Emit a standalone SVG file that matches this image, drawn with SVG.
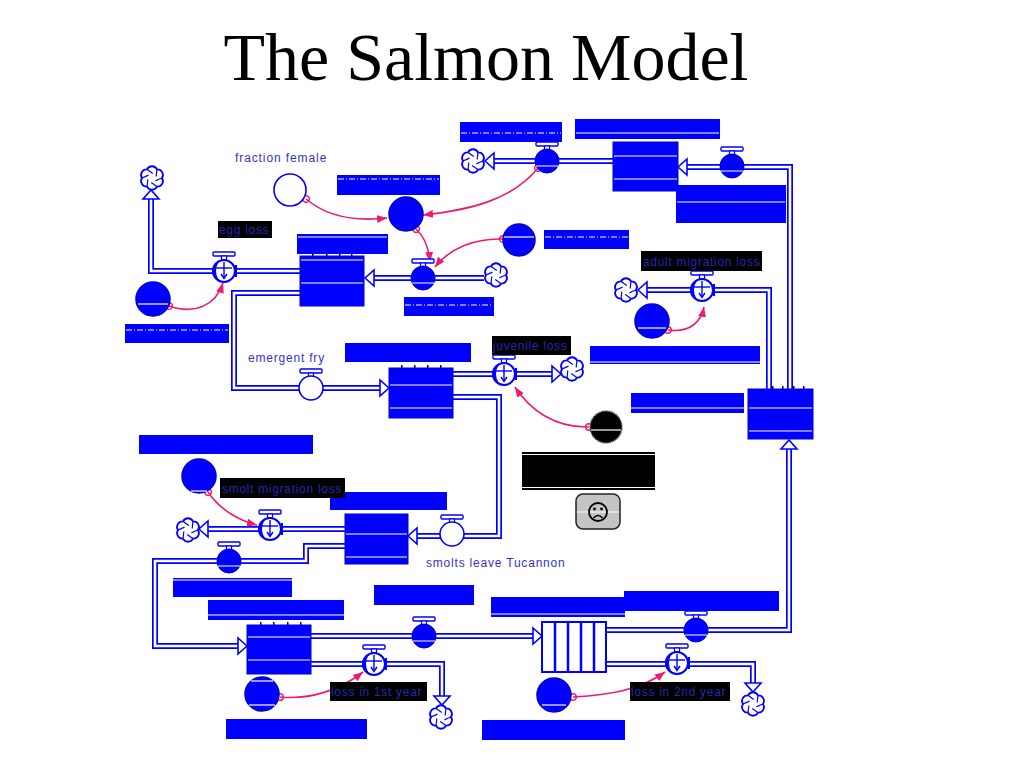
<svg xmlns="http://www.w3.org/2000/svg" width="1024" height="768" viewBox="0 0 1024 768">
<style>
.po{fill:none;stroke:#0000ff;stroke-width:6;stroke-linejoin:miter}
.pi{fill:none;stroke:#ffffff;stroke-width:2.6;stroke-linejoin:miter}
.ah{fill:#ffffff;stroke:#0000ff;stroke-width:1.6;stroke-linejoin:miter}
.stock{fill:#0000ff;stroke:#0000cc;stroke-width:1}
.wl{stroke:#ffffff;stroke-width:1.2}
.wd{stroke:#ffffff;stroke-width:1.2;stroke-dasharray:6 2 1 2}
.lbl{fill:#0000ff}
.blk{fill:#000000}
.bt{font-family:"Liberation Sans",Arial,sans-serif;font-size:12px;fill:#2626b0;letter-spacing:0.7px}
.nt{font-family:"Liberation Sans",Arial,sans-serif;font-size:12px;fill:#3333cc;letter-spacing:0.9px}
.conv{fill:#0000ff;stroke:#0000cc;stroke-width:1.5}
.cn{fill:none;stroke:#ee1a72;stroke-width:1.6;marker-start:url(#mo);marker-end:url(#ma)}
.cloud{fill:#ffffff;stroke:#0000ff;stroke-width:1.8}
.tick{fill:#000066}
</style>
<defs>
<marker id="ma" markerUnits="userSpaceOnUse" markerWidth="12" markerHeight="10" refX="10" refY="5" orient="auto"><path d="M0,1 L10,5 L0,9 Z" fill="#ee1a72"/></marker>
<marker id="mo" markerUnits="userSpaceOnUse" markerWidth="10" markerHeight="10" refX="5" refY="5" orient="auto"><circle cx="5" cy="5" r="3.3" fill="none" stroke="#ee1a72" stroke-width="1.4"/></marker>
<path id="ah" d="M0,0 L-9,-8 L-9,8 Z"/>
<g id="cloud">
<path class="cloud" d="M10,0 A5.6,5.6 0 0 1 5,8.66 A5.6,5.6 0 0 1 -5,8.66 A5.6,5.6 0 0 1 -10,0 A5.6,5.6 0 0 1 -5,-8.66 A5.6,5.6 0 0 1 5,-8.66 A5.6,5.6 0 0 1 10,0 Z"/>
<path d="M10,0 Q6.89,1.22 3.45,2.89 M5,8.66 Q2.39,6.58 -0.78,4.43 M-5,8.66 Q-4.5,5.36 -4.23,1.54 M-10,0 Q-6.89,-1.22 -3.45,-2.89 M-5,-8.66 Q-2.39,-6.58 0.78,-4.43 M5,-8.66 Q4.5,-5.36 4.23,-1.54" fill="none" stroke="#0000ff" stroke-width="1.2"/>
</g>
<g id="handle">
<rect x="-11" y="-19" width="22" height="4" rx="1" fill="#ffffff" stroke="#0000ff" stroke-width="1.4"/>
<rect x="-2.5" y="-15" width="5" height="4" fill="#ffffff" stroke="#0000ff" stroke-width="1.2"/>
</g>
<g id="vf">
<use href="#handle"/>
<circle r="12" fill="#0000ff" stroke="#0000cc" stroke-width="1"/>
<line x1="-11" y1="5" x2="11" y2="5" stroke="#ffffff" stroke-width="1"/>
</g>
<g id="vh">
<use href="#handle"/>
<circle r="12" fill="#ffffff" stroke="#0000ff" stroke-width="1.6"/>
</g>
<g id="vl">
<use href="#handle"/>
<circle r="11" fill="#ffffff" stroke="#0000ff" stroke-width="2"/>
<path d="M-1,-11 A11,11 0 0 0 -1,11 A7,11 0 0 1 -1,-11 Z" fill="#0000ff"/>
<line x1="0" y1="-9" x2="0" y2="7" stroke="#0000ff" stroke-width="1.4"/>
<line x1="-8" y1="-3" x2="8" y2="-3" stroke="#0000ff" stroke-width="1.4"/>
<path d="M-3,3 L0,7.5 L3,3" fill="none" stroke="#0000ff" stroke-width="1.4"/>
<line x1="12" y1="-6" x2="12" y2="6" stroke="#0000ff" stroke-width="2"/>
</g>
<path id="p1" d="M300,271 H151 V199"/>
<path id="p2" d="M484,278 H373"/>
<path id="p3" d="M300,293 H234 V388 H380"/>
<path id="p4" d="M453,374 H552"/>
<path id="p5" d="M453,397 H499 V536 H417"/>
<path id="p6" d="M345,529 H208"/>
<path id="p7" d="M345,546 H306 V561 H155 V646 H238"/>
<path id="p8" d="M311,636 H533"/>
<path id="p9" d="M311,664 H442 V696"/>
<path id="p10" d="M606,630 H789 V449"/>
<path id="p11" d="M606,664 H753 V683"/>
<path id="p12" d="M769,389 V290 H647"/>
<path id="p13" d="M790,389 V167 H687"/>
<path id="p14" d="M613,161 H494"/>
</defs>
<rect width="1024" height="768" fill="#ffffff"/>
<text x="486" y="80" text-anchor="middle" font-family="'Liberation Serif','Times New Roman',serif" font-size="68" fill="#000000">The Salmon Model</text>

<g id="connectors">
<g id="pipes-outer" class="po">
<use href="#p1"/><use href="#p2"/><use href="#p3"/><use href="#p4"/><use href="#p5"/><use href="#p6"/><use href="#p7"/>
<use href="#p8"/><use href="#p9"/><use href="#p10"/><use href="#p11"/><use href="#p12"/><use href="#p13"/><use href="#p14"/>
</g>
<g id="pipes-inner" class="pi">
<use href="#p1"/><use href="#p2"/><use href="#p3"/><use href="#p4"/><use href="#p5"/><use href="#p6"/><use href="#p7"/>
<use href="#p8"/><use href="#p9"/><use href="#p10"/><use href="#p11"/><use href="#p12"/><use href="#p13"/><use href="#p14"/>
</g>
<g id="pipe-arrows" class="ah">
<use href="#ah" transform="translate(151,190) rotate(-90)"/>
<use href="#ah" transform="translate(365,278) rotate(180)"/>
<use href="#ah" transform="translate(389,388)"/>
<use href="#ah" transform="translate(561,374)"/>
<use href="#ah" transform="translate(408,536) rotate(180)"/>
<use href="#ah" transform="translate(199,529) rotate(180)"/>
<use href="#ah" transform="translate(247,646)"/>
<use href="#ah" transform="translate(542,636)"/>
<use href="#ah" transform="translate(442,705) rotate(90)"/>
<use href="#ah" transform="translate(789,440) rotate(-90)"/>
<use href="#ah" transform="translate(753,692) rotate(90)"/>
<use href="#ah" transform="translate(638,290) rotate(180)"/>
<use href="#ah" transform="translate(678,167) rotate(180)"/>
<use href="#ah" transform="translate(485,161) rotate(180)"/>
</g>
<g id="links">
<path class="cn" d="M306,199 C325,215 352,222 387,218"/>
<path class="cn" d="M538,168 C512,200 470,210 423,215"/>
<path class="cn" d="M416,229 Q428,240 430,262"/>
<path class="cn" d="M503,239 C475,238 450,248 435,267"/>
<path class="cn" d="M169,306 C195,315 216,305 223,283"/>
<path class="cn" d="M668,330 C690,333 701,322 704,307"/>
<path class="cn" d="M589,427 C555,428 530,410 515,387"/>
<path class="cn" d="M208,492 C220,510 240,521 257,525"/>
<path class="cn" d="M280,697 C310,700 340,690 363,672"/>
<path class="cn" d="M573,697 C610,695 640,690 665,672"/>
</g>
</g>

<g id="clouds">
<use href="#cloud" x="152" y="178"/>
<use href="#cloud" x="473" y="161"/>
<use href="#cloud" x="496" y="275"/>
<use href="#cloud" x="626" y="290"/>
<use href="#cloud" x="572" y="369"/>
<use href="#cloud" x="188" y="530"/>
<use href="#cloud" x="441" y="717"/>
<use href="#cloud" x="753" y="704"/>
</g>

<g id="stock-eggs">
<rect class="stock" x="300" y="256" width="64" height="50"/>
<line class="wl" x1="301" y1="260" x2="363" y2="260"/>
<line class="wl" x1="301" y1="283" x2="363" y2="283"/>
<rect class="tick" x="312" y="253" width="1.5" height="3"/><rect class="tick" x="326" y="253" width="1.5" height="3"/><rect class="tick" x="339" y="253" width="1.5" height="3"/><rect class="tick" x="351" y="253" width="1.5" height="3"/>
</g>
<g id="stock-spawners">
<rect class="stock" x="613" y="142" width="65" height="49"/>
<line class="wl" x1="614" y1="156" x2="677" y2="156"/>
<line class="wl" x1="614" y1="179" x2="677" y2="179"/>
</g>
<g id="stock-fry">
<rect class="stock" x="389" y="368" width="64" height="50"/>
<line class="wl" x1="390" y1="385" x2="452" y2="385"/>
<line class="wl" x1="390" y1="408" x2="452" y2="408"/>
<rect class="tick" x="401" y="365" width="1.5" height="3"/><rect class="tick" x="414" y="365" width="1.5" height="3"/><rect class="tick" x="427" y="365" width="1.5" height="3"/><rect class="tick" x="440" y="365" width="1.5" height="3"/>
</g>
<g id="stock-smolts">
<rect class="stock" x="345" y="514" width="63" height="50"/>
<line class="wl" x1="346" y1="534" x2="407" y2="534"/>
<line class="wl" x1="346" y1="557" x2="407" y2="557"/>
</g>
<g id="stock-adults">
<rect class="stock" x="748" y="389" width="65" height="50"/>
<line class="wl" x1="749" y1="408" x2="812" y2="408"/>
<line class="wl" x1="749" y1="431" x2="812" y2="431"/>
<rect class="tick" x="772" y="386" width="1.5" height="3"/><rect class="tick" x="782" y="386" width="1.5" height="3"/><rect class="tick" x="793" y="386" width="1.5" height="3"/><rect class="tick" x="803" y="386" width="1.5" height="3"/>
</g>
<g id="stock-ocean-1st-year">
<rect class="stock" x="247" y="625" width="64" height="49"/>
<line class="wl" x1="248" y1="637" x2="310" y2="637"/>
<line class="wl" x1="248" y1="660" x2="310" y2="660"/>
<rect class="tick" x="260" y="622" width="1.5" height="3"/><rect class="tick" x="273" y="622" width="1.5" height="3"/><rect class="tick" x="287" y="622" width="1.5" height="3"/><rect class="tick" x="300" y="622" width="1.5" height="3"/>
</g>
<g id="conveyor-2nd-year">
<rect x="542" y="622" width="64" height="50" fill="#ffffff" stroke="#0000ff" stroke-width="2"/>
<line x1="555" y1="622" x2="555" y2="672" stroke="#0000ff" stroke-width="2.5"/>
<line x1="568" y1="622" x2="568" y2="672" stroke="#0000ff" stroke-width="2.5"/>
<line x1="581" y1="622" x2="581" y2="672" stroke="#0000ff" stroke-width="2.5"/>
<line x1="594" y1="622" x2="594" y2="672" stroke="#0000ff" stroke-width="2.5"/>
</g>

<g id="valve-egg-loss"><use href="#vl" x="224" y="271"/></g>
<g id="valve-egg-production"><use href="#vf" x="423" y="278"/></g>
<g id="valve-spawner-out"><use href="#vf" x="547" y="161"/></g>
<g id="valve-adult-return"><use href="#vf" x="732" y="166"/></g>
<g id="valve-adult-migration-loss"><use href="#vl" x="702" y="290"/></g>
<g id="valve-emergent-fry"><use href="#vh" x="311" y="388"/></g>
<g id="valve-juvenile-loss"><use href="#vl" x="504" y="374"/></g>
<g id="valve-smolts-leave"><use href="#vh" x="452" y="534"/></g>
<g id="valve-smolt-migration-loss"><use href="#vl" x="270" y="529"/></g>
<g id="valve-to-ocean"><use href="#vf" x="229" y="561"/></g>
<g id="valve-to-2nd-year"><use href="#vf" x="424" y="636"/></g>
<g id="valve-loss-1st-year"><use href="#vl" x="374" y="664"/></g>
<g id="valve-to-adults"><use href="#vf" x="696" y="630"/></g>
<g id="valve-loss-2nd-year"><use href="#vl" x="677" y="663"/></g>

<g id="conv-fraction-female">
<circle cx="290" cy="190" r="16" fill="#ffffff" stroke="#0000ff" stroke-width="1.6"/>
<text class="nt" x="235" y="162">fraction female</text>
</g>
<g id="conv-egg-rate"><circle class="conv" cx="406" cy="214" r="17"/></g>
<g id="conv-fecundity"><circle class="conv" cx="519" cy="240" r="16"/><line class="wl" x1="504" y1="237" x2="534" y2="237"/></g>
<g id="conv-egg-loss-rate"><circle class="conv" cx="153" cy="299" r="17"/><line class="wl" x1="138" y1="304" x2="168" y2="304"/></g>
<g id="conv-adult-migration"><circle class="conv" cx="652" cy="321" r="17"/><line class="wl" x1="638" y1="328" x2="666" y2="328"/></g>
<g id="conv-juvenile"><circle cx="606" cy="427" r="16" fill="#000000" stroke="#666666" stroke-width="1.5" stroke-dasharray="1.5 1"/><line class="wl" x1="591" y1="430" x2="621" y2="430"/></g>
<g id="conv-smolt-migration"><circle class="conv" cx="199" cy="476" r="17"/><line class="wl" x1="191" y1="491" x2="207" y2="491"/></g>
<g id="conv-1st-year"><circle class="conv" cx="262" cy="694" r="17"/><line class="wl" x1="251" y1="681" x2="273" y2="681"/><line class="wl" x1="249" y1="705" x2="275" y2="705"/></g>
<g id="conv-2nd-year"><circle class="conv" cx="554" cy="695" r="17"/><line class="wl" x1="542" y1="705" x2="566" y2="705"/></g>

<g id="labels-blue">
<rect class="lbl" x="460" y="122" width="102" height="20"/><line class="wd" x1="461" y1="133" x2="561" y2="133"/>
<rect class="lbl" x="575" y="119" width="145" height="20"/><line class="wl" x1="576" y1="133" x2="719" y2="133"/>
<rect class="lbl" x="337" y="175" width="103" height="20"/><line class="wd" x1="338" y1="179" x2="439" y2="179"/>
<rect class="lbl" x="297" y="234" width="91" height="20"/><line class="wl" x1="298" y1="237" x2="387" y2="237"/>
<rect class="lbl" x="544" y="230" width="85" height="19"/><line class="wd" x1="545" y1="237" x2="628" y2="237"/>
<rect class="lbl" x="404" y="297" width="90" height="19"/><line class="wd" x1="405" y1="305" x2="493" y2="305"/>
<rect class="lbl" x="676" y="185" width="110" height="38"/><line class="wl" x1="677" y1="202" x2="785" y2="202"/>
<rect class="lbl" x="125" y="324" width="104" height="19"/><line class="wd" x1="126" y1="330" x2="228" y2="330"/>
<rect class="lbl" x="345" y="343" width="126" height="19"/>
<rect class="lbl" x="590" y="346" width="170" height="18"/><line class="wl" x1="590" y1="362" x2="760" y2="362"/>
<rect class="lbl" x="631" y="393" width="113" height="20"/><line class="wl" x1="631" y1="408" x2="744" y2="408"/>
<rect class="lbl" x="139" y="435" width="174" height="19"/>
<rect class="lbl" x="330" y="492" width="117" height="18"/>
<rect class="lbl" x="173" y="578" width="119" height="19"/><line class="wl" x1="173" y1="580" x2="292" y2="580"/>
<rect class="lbl" x="208" y="600" width="136" height="20"/><line class="wl" x1="208" y1="615" x2="344" y2="615"/>
<rect class="lbl" x="374" y="585" width="100" height="20"/>
<rect class="lbl" x="491" y="597" width="134" height="20"/><line class="wl" x1="491" y1="614" x2="625" y2="614"/>
<rect class="lbl" x="624" y="591" width="155" height="20"/>
<rect class="lbl" x="226" y="719" width="141" height="20"/>
<rect class="lbl" x="482" y="720" width="143" height="20"/>
</g>

<g id="label-egg-loss"><rect class="blk" x="218" y="221" width="54" height="17"/><text class="bt" x="219" y="234">egg loss</text></g>
<g id="label-juvenile-loss"><rect class="blk" x="492" y="336" width="79" height="19"/><text class="bt" x="493" y="350">juvenile loss</text></g>
<g id="label-adult-migration-loss"><rect class="blk" x="641" y="251" width="121" height="20"/><text class="bt" x="643" y="266">adult migration loss</text></g>
<g id="label-smolt-migration-loss"><rect class="blk" x="220" y="478" width="125" height="20"/><text class="bt" x="222" y="493">smolt migration loss</text></g>
<g id="label-loss-1st-year"><rect class="blk" x="330" y="682" width="97" height="19"/><text class="bt" x="331" y="696">loss in 1st year</text></g>
<g id="label-loss-2nd-year"><rect class="blk" x="630" y="682" width="100" height="19"/><text class="bt" x="631" y="696">loss in 2nd year</text></g>

<g id="text-emergent-fry"><text class="nt" x="248" y="362" style="letter-spacing:0.8px">emergent fry</text></g>
<g id="text-smolts-leave"><text class="nt" x="426" y="567" style="letter-spacing:0.8px">smolts leave Tucannon</text></g>

<g id="black-panel">
<rect x="522" y="452" width="133" height="38" fill="#000000"/>
<line x1="522" y1="454.5" x2="655" y2="454.5" stroke="#ffffff" stroke-width="1"/>
<line x1="522" y1="487.5" x2="655" y2="487.5" stroke="#ffffff" stroke-width="1"/>
</g>
<g id="button-frown">
<rect x="576" y="494" width="44" height="35" rx="7" fill="#c4c4c4" stroke="#222222" stroke-width="1.5"/>
<line x1="577" y1="512" x2="619" y2="512" stroke="#ffffff" stroke-width="1"/>
<circle cx="598" cy="512" r="9" fill="none" stroke="#000000" stroke-width="1.8"/>
<circle cx="594.5" cy="509" r="1.4" fill="#000000"/>
<circle cx="601.5" cy="509" r="1.4" fill="#000000"/>
<path d="M593.5,518 Q598,513 602.5,518" fill="none" stroke="#000000" stroke-width="1.6"/>
</g>
</svg>
